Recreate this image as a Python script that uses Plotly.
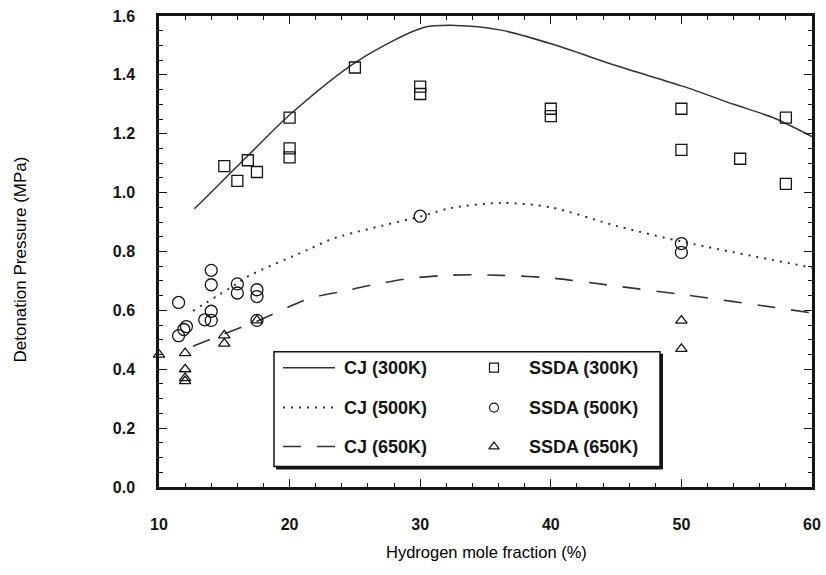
import plotly.graph_objects as go

# --- Chapman-Jouguet (CJ) calculated detonation pressures ---
cj300_x = [12.7, 13.4, 16.8, 20.2, 25.2, 30.2, 32.7, 36.2, 40.2, 45.1, 50.2, 54.0, 57.0, 60.0]
cj300_y = [0.945, 0.975, 1.125, 1.272, 1.447, 1.560, 1.568, 1.552, 1.503, 1.430, 1.360, 1.300, 1.255, 1.190]

cj500_x = [12.6, 16.0, 17.0, 21.4, 23.4, 30.1, 32.4, 36.2, 40.0, 45.1, 50.2, 60.0]
cj500_y = [0.598, 0.692, 0.720, 0.806, 0.845, 0.920, 0.948, 0.965, 0.950, 0.886, 0.832, 0.745]

cj650_x = [12.6, 15.0, 17.6, 21.5, 24.0, 26.4, 28.9, 31.6, 34.1, 36.2, 40.0, 45.1, 50.2, 57.9, 60.0]
cj650_y = [0.478, 0.520, 0.565, 0.640, 0.664, 0.687, 0.707, 0.718, 0.721, 0.719, 0.710, 0.682, 0.653, 0.605, 0.591]

# --- SSDA measured detonation pressures ---
ssda300_x = [15, 16, 16.8, 17.5, 20, 20, 20, 25, 30, 30, 40, 40, 50, 50, 54.5, 58, 58]
ssda300_y = [1.09, 1.04, 1.11, 1.07, 1.255, 1.15, 1.12, 1.425, 1.36, 1.335, 1.285, 1.26, 1.285, 1.145, 1.115, 1.255, 1.03]

ssda500_x = [11.5, 11.5, 11.9, 12.1, 13.5, 14, 14, 14, 14, 16, 16, 17.5, 17.5, 17.5, 30, 50, 50]
ssda500_y = [0.627, 0.514, 0.535, 0.545, 0.568, 0.597, 0.566, 0.687, 0.736, 0.690, 0.659, 0.670, 0.647, 0.566, 0.920, 0.827, 0.797]

ssda650_x = [10, 12, 12, 12, 12, 15, 15, 17.5, 50, 50]
ssda650_y = [0.45, 0.455, 0.40, 0.37, 0.36, 0.515, 0.487, 0.566, 0.565, 0.469]

x_ticks = [10, 20, 30, 40, 50, 60]
y_ticks = [0.0, 0.2, 0.4, 0.6, 0.8, 1.0, 1.2, 1.4, 1.6]

legend_lines = ["CJ (300K)", "CJ (500K)", "CJ (650K)"]
legend_points = ["SSDA (300K)", "SSDA (500K)", "SSDA (650K)"]

FONT = "Liberation Sans, Arial, Helvetica, sans-serif"
INK = "#151515"
LINE_INK = "#333333"

# plot-area edges in pixels (for placing the hand-drawn legend box)
PLOT_L, PLOT_R, PLOT_T, PLOT_B = 159, 812, 16, 487.5
W, H = 826, 575


def px(x):
    return (x - PLOT_L) / (PLOT_R - PLOT_L)


def py(y):
    return (PLOT_B - y) / (PLOT_B - PLOT_T)


line_styles = [
    dict(color=LINE_INK, width=1.5, dash="solid"),
    dict(color=LINE_INK, width=2, dash="2px,6px"),
    dict(color=LINE_INK, width=1.6, dash="18px,16px"),
]
marker_syms = ["square-open", "circle-open", "triangle-up-open"]
marker_sizes = [11, 12, 10]

fig = go.Figure()

for xs, ys, ls in zip([cj300_x, cj500_x, cj650_x], [cj300_y, cj500_y, cj650_y], line_styles):
    fig.add_trace(go.Scatter(
        x=xs, y=ys, mode="lines", line=dict(shape="spline", smoothing=0.8, **ls),
        showlegend=False, hoverinfo="skip",
    ))

for xs, ys, sym, sz in zip([ssda300_x, ssda500_x, ssda650_x], [ssda300_y, ssda500_y, ssda650_y],
                           marker_syms, marker_sizes):
    fig.add_trace(go.Scatter(
        x=xs, y=ys, mode="markers", cliponaxis=False,
        marker=dict(symbol=sym, size=sz, color=INK, line=dict(color=INK, width=1.3)),
        showlegend=False,
    ))

# ---- hand-drawn legend box ----
box_l, box_r, box_t, box_b = 274, 660, 352, 467
rows = [368, 408, 447]
shapes = [
    dict(type="rect", xref="paper", yref="paper", x0=px(box_l), x1=px(box_r), y0=py(box_b), y1=py(box_t),
         line=dict(color=INK, width=1.5), fillcolor="white", layer="below"),
    # shadow edges
    dict(type="line", xref="paper", yref="paper", x0=px(box_l + 2), x1=px(box_r + 2),
         y0=py(box_b + 1.5), y1=py(box_b + 1.5), line=dict(color=INK, width=3), layer="above"),
    dict(type="line", xref="paper", yref="paper", x0=px(box_r + 1.5), x1=px(box_r + 1.5),
         y0=py(box_t + 2), y1=py(box_b + 2.5), line=dict(color=INK, width=3), layer="above"),
]
for r, ls in zip(rows, line_styles):
    shapes.append(dict(type="line", xref="paper", yref="paper", x0=px(283), x1=px(335),
                       y0=py(r), y1=py(r), line=ls, layer="above"))

annotations = []
for r, t in zip(rows, legend_lines):
    annotations.append(dict(xref="paper", yref="paper", x=px(342), y=py(r), text=t, showarrow=False,
                            xanchor="left", yanchor="middle",
                            font=dict(family=FONT, size=18, color=INK, weight="bold")))
for r, t in zip(rows, legend_points):
    annotations.append(dict(xref="paper", yref="paper", x=px(527), y=py(r), text=t, showarrow=False,
                            xanchor="left", yanchor="middle",
                            font=dict(family=FONT, size=18, color=INK, weight="bold")))

# legend marker glyphs, drawn on an overlay axis spanning the plot area
for r, sym in zip(rows, marker_syms):
    fig.add_trace(go.Scatter(
        x=[px(494)], y=[py(r)], xaxis="x2", yaxis="y2", mode="markers", cliponaxis=False,
        marker=dict(symbol=sym, size=9, color=INK, line=dict(color=INK, width=1.2)),
        showlegend=False, hoverinfo="skip",
    ))

# axis titles
annotations.append(dict(xref="paper", yref="paper", x=0.5, y=0, yshift=-65, xshift=1,
                        text="Hydrogen mole fraction (%)",
                        showarrow=False, xanchor="center", yanchor="middle",
                        font=dict(family=FONT, size=16.5, color="#000000")))
annotations.append(dict(xref="paper", yref="paper", x=0, xshift=-139, y=0.5, yshift=-8,
                        text="Detonation Pressure (MPa)", textangle=-90,
                        showarrow=False, xanchor="center", yanchor="middle",
                        font=dict(family=FONT, size=17, color="#000000")))

axis_common = dict(
    showgrid=False, zeroline=False, showline=True, linecolor=INK, linewidth=2.5, mirror="ticks",
    ticks="inside", ticklen=8, tickwidth=1.4, tickcolor=INK, automargin=False,
    tickfont=dict(family=FONT, size=16, color=INK, weight="bold"),
)

fig.update_layout(
    template="none",
    width=W, height=H,
    margin=dict(l=PLOT_L, r=W - PLOT_R, t=PLOT_T, b=H - PLOT_B, pad=0),
    paper_bgcolor="white", plot_bgcolor="white",
    xaxis=dict(range=[10, 60], tickvals=x_ticks, ticktext=[str(v) for v in x_ticks],
               minor=dict(dtick=2, ticks="inside", ticklen=4, tickwidth=1, tickcolor=INK),
               ticklabelstandoff=21, **axis_common),
    yaxis=dict(range=[0, 1.6], tickvals=y_ticks, ticktext=[f"{v:.1f}" for v in y_ticks],
               minor=dict(dtick=0.05, ticks="inside", ticklen=4, tickwidth=1, tickcolor=INK),
               ticklabelstandoff=18, **axis_common),
    xaxis2=dict(overlaying="x", anchor="y2", range=[0, 1], visible=False, fixedrange=True),
    yaxis2=dict(overlaying="y", anchor="x2", range=[0, 1], visible=False, fixedrange=True),
    shapes=shapes,
    annotations=annotations,
    showlegend=False,
)

fig.write_html("out.html")
